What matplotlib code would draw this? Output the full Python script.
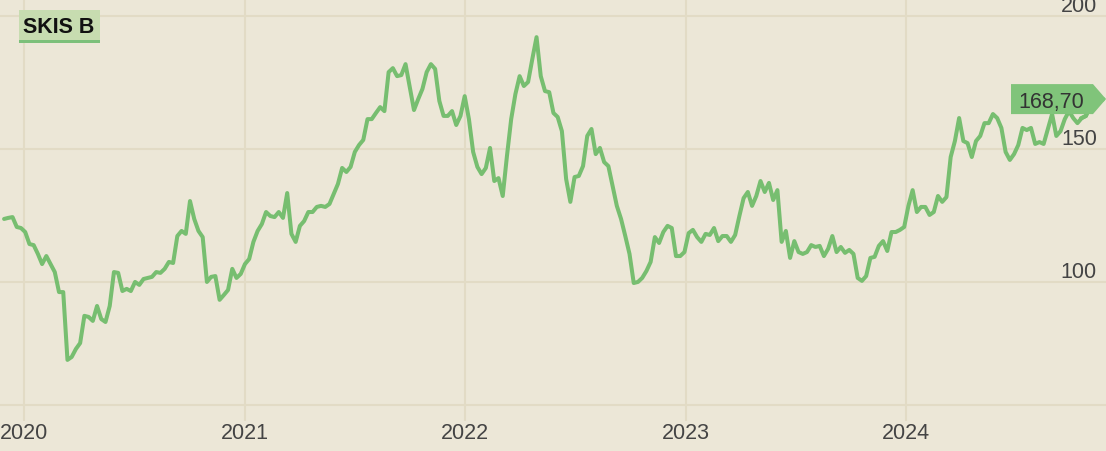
import numpy as np
import pandas as pd
import matplotlib
matplotlib.use("Agg")
import matplotlib.pyplot as plt
import matplotlib.dates as mdates
import matplotlib.transforms as mtransforms
from matplotlib.patches import Polygon, Rectangle

# weekly closes, SKIS B
ticker = "SKIS B"
close = [
    123.8, 124.2, 124.5, 120.8, 120.4, 118.9, 114.4, 114.0, 110.7, 106.9,
    109.9, 106.9, 103.9, 96.4, 96.4, 71.0, 72.1, 75.1, 77.3, 87.5,
    87.1, 85.6, 91.2, 86.3, 85.2, 91.2, 103.9, 103.6, 96.8, 97.6,
    96.8, 100.2, 99.1, 101.3, 101.7, 102.1, 103.9, 103.6, 105.1, 107.7,
    107.3, 117.4, 119.3, 118.2, 130.5, 123.8, 119.3, 117.0, 100.2, 102.1,
    102.4, 93.5, 95.3, 97.2, 105.1, 101.7, 103.2, 106.9, 108.8, 115.2,
    119.3, 121.9, 126.4, 124.9, 124.5, 126.4, 124.2, 133.5, 118.2, 115.2,
    121.2, 123.0, 126.4, 126.4, 128.3, 128.7, 128.3, 129.4, 133.1, 136.9,
    142.9, 141.4, 143.3, 148.9, 151.5, 153.4, 161.2, 161.2, 163.5, 165.7,
    164.2, 178.8, 180.3, 177.3, 177.7, 181.8, 173.2, 164.6, 168.7, 172.5,
    178.8, 181.8, 180.0, 168.0, 162.4, 162.4, 164.2, 159.0, 162.4, 169.8,
    161.2, 148.9, 143.3, 140.6, 142.9, 150.4, 138.0, 139.1, 132.4, 147.4,
    161.2, 170.6, 177.3, 173.6, 175.1, 183.7, 191.9, 177.3, 171.7, 171.3,
    163.5, 162.0, 156.7, 138.8, 130.2, 139.5, 139.9, 143.6, 154.9, 157.5,
    148.1, 150.4, 145.1, 143.6, 136.1, 128.7, 123.8, 117.4, 110.7, 99.8,
    100.2, 101.7, 104.3, 107.7, 117.0, 114.8, 118.9, 121.2, 120.4, 109.9,
    109.9, 111.4, 118.5, 119.7, 117.0, 115.2, 118.2, 117.8, 120.4, 115.5,
    117.4, 117.4, 115.2, 117.8, 124.9, 131.6, 133.9, 128.7, 132.4, 138.0,
    133.9, 137.3, 130.9, 134.6, 115.2, 119.3, 109.2, 115.5, 111.4, 110.7,
    111.4, 114.0, 113.3, 113.7, 109.9, 112.6, 117.4, 111.4, 113.3, 111.1,
    112.2, 110.7, 101.7, 100.6, 102.4, 109.2, 109.6, 113.7, 115.5, 111.8,
    118.9, 118.9, 119.7, 120.8, 128.7, 134.6, 126.4, 128.3, 128.3, 125.3,
    126.4, 132.4, 130.2, 132.0, 147.0, 153.0, 161.6, 153.0, 152.2, 147.0,
    153.0, 154.9, 159.7, 159.7, 163.1, 161.6, 157.9, 148.9, 145.9, 148.1,
    151.5, 157.9, 157.1, 157.9, 151.9, 152.6, 151.9, 157.5, 163.1, 154.9,
    156.7, 161.2, 164.2, 161.6, 159.7, 161.6, 162.4, 166.1, 169.8, 169.4,
    168.7,
]
dates = pd.date_range(end="2024-11-22", periods=len(close), freq="7D")
y_ticks = [100, 150, 200]

BG = "#ece7d7"
GRID = "#e2dbc5"
LINE = "#77be70"
TAG = "#80c47a"
TXT = "#444444"
W, H = 1106, 452

plt.rcParams["font.family"] = ["Liberation Sans", "DejaVu Sans"]

fig = plt.figure(figsize=(W / 100, H / 100), dpi=100, facecolor=BG)
ax = fig.add_axes([0, 46 / H, 1, 406 / H])
ax.set_facecolor(BG)

ax.plot(dates, close, color=LINE, lw=2.9, solid_joinstyle="round",
        solid_capstyle="round", zorder=3)

ax.set_xlim(pd.Timestamp("2019-11-22 06:00"), pd.Timestamp("2024-11-27 07:00"))
ax.set_ylim(54.1, 206.2)

ax.xaxis.set_major_locator(mdates.YearLocator())
ax.xaxis.set_major_formatter(mdates.DateFormatter("%Y"))
ax.set_yticks(y_ticks)
ax.tick_params(axis="y", length=0, labelleft=False)
ax.tick_params(axis="x", length=11.5, width=1.5, color=GRID, pad=1,
               labelsize=15.5, labelcolor=TXT)
ax.grid(True, color=GRID, lw=1.5, zorder=0)
for s in ["top", "left", "right"]:
    ax.spines[s].set_visible(False)
ax.spines["bottom"].set_color(GRID)
ax.spines["bottom"].set_linewidth(1.5)

# y labels sit just above their gridline at the right edge
for v in y_ticks:
    ax.annotate(str(v), xy=(1, v), xycoords=("axes fraction", "data"),
                xytext=(-9, 5), textcoords="offset pixels",
                ha="right", va="baseline", fontsize=15.5, color=TXT,
                annotation_clip=False)

# last price tag
trans = mtransforms.blended_transform_factory(ax.transAxes, ax.transData)
tip = trans.transform((1.0, close[-1]))
tag = Polygon([(-95, -15), (-13, -15), (0, 0), (-13, 15), (-95, 15)],
              closed=True, facecolor=TAG, edgecolor="none",
              transform=mtransforms.Affine2D().translate(*tip), zorder=2)
fig.add_artist(tag)
ax.plot(dates[-6:], close[-6:], color=LINE, lw=2.9, solid_joinstyle="round", zorder=5)
fig.text(0, 0, f"{close[-1]:.2f}".replace(".", ","), fontsize=15.5, color="#333333",
         ha="center", va="baseline",
         transform=mtransforms.Affine2D().translate(tip[0] - 55, tip[1] - 8), zorder=6)

# ticker badge top-left
fig.add_artist(Rectangle((19 / W, 1 - 41 / H), 81 / W, 30 / H,
                         transform=fig.transFigure, facecolor="#c7dcb0", edgecolor="none"))
fig.add_artist(Rectangle((19 / W, 1 - 44 / H), 81 / W, 3 / H,
                         transform=fig.transFigure, facecolor="#7cc07a", edgecolor="none"))
fig.text(23 / W, 1 - 33 / H, ticker, fontsize=15.5, fontweight="bold",
         color="#111111", ha="left", va="baseline")

fig.savefig("out.png", dpi=100, facecolor=BG)
